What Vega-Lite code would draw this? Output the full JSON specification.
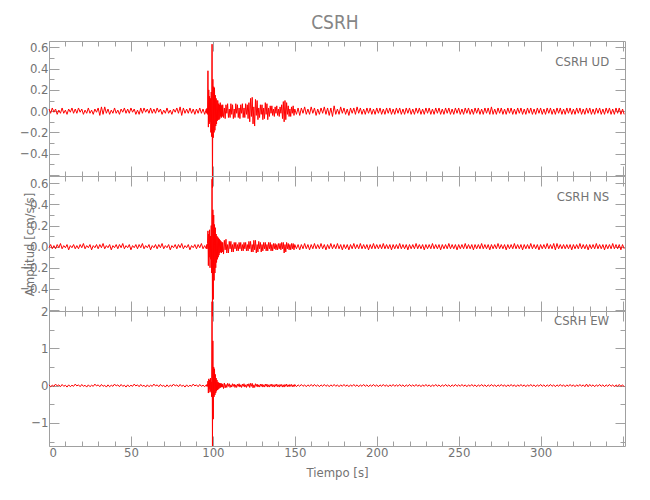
{
"$schema": "https://vega.github.io/schema/vega-lite/v6.json",
"padding": {"left": 19, "top": 13, "right": 5, "bottom": 5},
"title": {"text": "CSRH", "fontSize": 19, "font": "DejaVu Sans Condensed, Liberation Sans, sans-serif", "fontWeight": "normal", "color": "#858585", "offset": -7, "dx": 12, "baseline": "alphabetic", "anchor": "middle"},
"spacing": 0,
"bounds": "flush",
"config": {
  "view": {"stroke": null},
  "axis": {"domainColor": "#a0a0a0", "tickColor": "#a0a0a0", "labelColor": "#737373", "labelFont": "DejaVu Sans Condensed, Liberation Sans, sans-serif", "labelFontSize": 13, "titleFont": "DejaVu Sans Condensed, Liberation Sans, sans-serif", "titleFontSize": 13, "titleColor": "#737373", "titleFontWeight": "normal", "grid": false},
  "line": {"color": "#ff0000", "strokeWidth": 1}
},
"data": {"values": [
{"t":0,"u":0.02,"n":-0.01,"e":0.02},{"t":1,"u":-0.02,"n":0.02,"e":-0.03},{"t":2,"u":0.03,"n":-0.02,"e":0.01},{"t":3,"u":-0.01,"n":0.01,"e":-0.02},{"t":4,"u":0.02,"n":-0.02,"e":0.04},{"t":5,"u":-0.03,"n":0.02,"e":-0.01},{"t":6,"u":0.01,"n":-0.01,"e":0.02},{"t":7,"u":-0.02,"n":0.03,"e":-0.03},{"t":8,"u":0.03,"n":-0.02,"e":0.03},{"t":9,"u":-0.02,"n":0.01,"e":-0.02},
{"t":10,"u":0.01,"n":-0.01,"e":0.01},{"t":11,"u":-0.03,"n":0.02,"e":-0.04},{"t":12,"u":0.02,"n":-0.03,"e":0.02},{"t":13,"u":-0.01,"n":0.01,"e":-0.03},{"t":14,"u":0.03,"n":-0.01,"e":0.01},{"t":15,"u":-0.02,"n":0.02,"e":-0.02},{"t":16,"u":0.02,"n":-0.02,"e":0.04},{"t":17,"u":-0.02,"n":0.01,"e":-0.01},{"t":18,"u":0.03,"n":-0.02,"e":0.02},{"t":19,"u":-0.01,"n":0.02,"e":-0.03},
{"t":20,"u":0.02,"n":-0.01,"e":0.03},{"t":21,"u":-0.03,"n":0.03,"e":-0.02},{"t":22,"u":0.01,"n":-0.02,"e":0.01},{"t":23,"u":-0.02,"n":0.01,"e":-0.04},{"t":24,"u":0.03,"n":-0.01,"e":0.02},{"t":25,"u":-0.02,"n":0.02,"e":-0.03},{"t":26,"u":0.01,"n":-0.03,"e":0.01},{"t":27,"u":-0.03,"n":0.01,"e":-0.02},{"t":28,"u":0.02,"n":-0.01,"e":0.04},{"t":29,"u":-0.01,"n":0.02,"e":-0.01},
{"t":30,"u":0.03,"n":-0.02,"e":0.02},{"t":31,"u":-0.04,"n":0.02,"e":-0.03},{"t":32,"u":0.04,"n":-0.01,"e":0.03},{"t":33,"u":-0.03,"n":0.03,"e":-0.02},{"t":34,"u":0.04,"n":-0.02,"e":0.01},{"t":35,"u":-0.02,"n":0.01,"e":-0.04},{"t":36,"u":0.02,"n":-0.01,"e":0.02},{"t":37,"u":-0.03,"n":0.02,"e":-0.03},{"t":38,"u":0.01,"n":-0.03,"e":0.01},{"t":39,"u":-0.02,"n":0.01,"e":-0.02},
{"t":40,"u":0.03,"n":-0.01,"e":0.04},{"t":41,"u":-0.02,"n":0.02,"e":-0.01},{"t":42,"u":0.01,"n":-0.02,"e":0.02},{"t":43,"u":-0.03,"n":0.02,"e":-0.03},{"t":44,"u":0.02,"n":-0.01,"e":0.03},{"t":45,"u":-0.01,"n":0.03,"e":-0.02},{"t":46,"u":0.03,"n":-0.02,"e":0.01},{"t":47,"u":-0.02,"n":0.01,"e":-0.04},{"t":48,"u":0.02,"n":-0.01,"e":0.02},{"t":49,"u":-0.02,"n":0.02,"e":-0.03},
{"t":50,"u":0.03,"n":-0.03,"e":0.01},{"t":51,"u":-0.01,"n":0.01,"e":-0.02},{"t":52,"u":0.02,"n":-0.01,"e":0.04},{"t":53,"u":-0.03,"n":0.02,"e":-0.01},{"t":54,"u":0.01,"n":-0.02,"e":0.02},{"t":55,"u":-0.03,"n":0.02,"e":-0.03},{"t":56,"u":0.03,"n":-0.01,"e":0.03},{"t":57,"u":-0.02,"n":0.03,"e":-0.02},{"t":58,"u":0.03,"n":-0.02,"e":0.01},{"t":59,"u":-0.01,"n":0.01,"e":-0.04},
{"t":60,"u":0.02,"n":-0.01,"e":0.02},{"t":61,"u":-0.02,"n":0.02,"e":-0.03},{"t":62,"u":0.03,"n":-0.03,"e":0.01},{"t":63,"u":-0.02,"n":0.01,"e":-0.02},{"t":64,"u":0.02,"n":-0.01,"e":0.04},{"t":65,"u":-0.02,"n":0.02,"e":-0.01},{"t":66,"u":0.03,"n":-0.02,"e":0.02},{"t":67,"u":-0.01,"n":0.02,"e":-0.03},{"t":68,"u":0.02,"n":-0.01,"e":0.03},{"t":69,"u":-0.03,"n":0.03,"e":-0.02},
{"t":70,"u":0.01,"n":-0.02,"e":0.01},{"t":71,"u":-0.02,"n":0.01,"e":-0.04},{"t":72,"u":0.03,"n":-0.01,"e":0.02},{"t":73,"u":-0.02,"n":0.02,"e":-0.03},{"t":74,"u":0.01,"n":-0.03,"e":0.01},{"t":75,"u":-0.03,"n":0.01,"e":-0.02},{"t":76,"u":0.02,"n":-0.01,"e":0.04},{"t":77,"u":-0.01,"n":0.02,"e":-0.01},{"t":78,"u":0.03,"n":-0.02,"e":0.02},{"t":79,"u":-0.02,"n":0.02,"e":-0.03},
{"t":80,"u":0.04,"n":-0.01,"e":0.03},{"t":81,"u":-0.04,"n":0.03,"e":-0.02},{"t":82,"u":0.03,"n":-0.02,"e":0.01},{"t":83,"u":-0.02,"n":0.01,"e":-0.04},{"t":84,"u":0.02,"n":-0.01,"e":0.02},{"t":85,"u":-0.02,"n":0.02,"e":-0.03},{"t":86,"u":0.03,"n":-0.03,"e":0.01},{"t":87,"u":-0.02,"n":0.01,"e":-0.02},{"t":88,"u":0.02,"n":-0.01,"e":0.04},{"t":89,"u":-0.03,"n":0.02,"e":-0.01},
{"t":90,"u":0.02,"n":-0.02,"e":0.02},{"t":91,"u":-0.02,"n":0.02,"e":-0.03},{"t":92,"u":0.03,"n":-0.01,"e":0.03},{"t":93,"u":-0.02,"n":0.03,"e":-0.02},{"t":94,"u":0.02,"n":-0.02,"e":0.01},{"t":95,"u":-0.03,"n":0.01,"e":-0.03},{"t":96,"u":0.02,"n":-0.02,"e":0.02},
{"t":96.25,"u":-0.02,"n":0.02,"e":-0.02},{"t":96.5,"u":0.03,"n":-0.02,"e":0.03},{"t":96.75,"u":-0.03,"n":0.03,"e":-0.02},{"t":97,"u":0.38,"n":0.15,"e":0.12},{"t":97.25,"u":-0.15,"n":-0.18,"e":-0.2},{"t":97.5,"u":0.2,"n":0.12,"e":0.18},{"t":97.75,"u":-0.12,"n":-0.1,"e":-0.1},{"t":98,"u":0.14,"n":0.16,"e":0.15},{"t":98.25,"u":-0.1,"n":-0.2,"e":-0.18},{"t":98.5,"u":0.12,"n":0.1,"e":0.2},
{"t":98.75,"u":-0.2,"n":-0.12,"e":-0.15},{"t":99,"u":0.18,"n":0.2,"e":0.1},{"t":99.25,"u":-0.24,"n":-0.25,"e":-0.3},{"t":99.5,"u":0.63,"n":0.64,"e":2.25},{"t":99.75,"u":-0.72,"n":-0.66,"e":-1.62},{"t":100,"u":0.3,"n":0.35,"e":1.2},{"t":100.25,"u":-0.25,"n":-0.5,"e":-0.9},{"t":100.5,"u":0.23,"n":0.3,"e":0.5},{"t":100.75,"u":-0.2,"n":-0.32,"e":-0.3},{"t":101,"u":0.22,"n":0.21,"e":0.45},
{"t":101.25,"u":-0.18,"n":-0.25,"e":-0.25},{"t":101.5,"u":0.15,"n":0.18,"e":0.3},{"t":101.75,"u":-0.14,"n":-0.2,"e":-0.2},{"t":102,"u":0.12,"n":0.12,"e":0.2},{"t":102.25,"u":-0.12,"n":-0.15,"e":-0.15},{"t":102.5,"u":0.1,"n":0.1,"e":0.15},{"t":102.75,"u":-0.09,"n":-0.12,"e":-0.12},{"t":103,"u":0.1,"n":0.09,"e":0.1},{"t":103.25,"u":-0.08,"n":-0.1,"e":-0.1},{"t":103.5,"u":0.07,"n":0.08,"e":0.08},
{"t":103.75,"u":-0.08,"n":-0.08,"e":-0.08},{"t":104,"u":0.06,"n":0.07,"e":0.07},{"t":104.25,"u":-0.07,"n":-0.06,"e":-0.06},{"t":104.5,"u":0.08,"n":0.06,"e":0.06},{"t":104.75,"u":-0.05,"n":-0.05,"e":-0.05},{"t":105,"u":0.06,"n":0.05,"e":0.06},{"t":105.25,"u":-0.06,"n":-0.06,"e":-0.04},{"t":105.5,"u":0.05,"n":0.04,"e":0.05},{"t":105.75,"u":-0.05,"n":-0.05,"e":-0.04},{"t":106,"u":0.06,"n":0.04,"e":0.04},
{"t":106.5,"u":-0.06,"n":-0.07,"e":-0.08},{"t":107,"u":0.03,"n":0.06,"e":0.07},{"t":107.5,"u":-0.07,"n":-0.03,"e":-0.06},{"t":108,"u":0.06,"n":0.07,"e":0.03},{"t":108.5,"u":-0.02,"n":-0.06,"e":-0.05},{"t":109,"u":0.07,"n":0.02,"e":0.06},{"t":109.5,"u":-0.06,"n":-0.06,"e":-0.02},{"t":110,"u":0.02,"n":0.05,"e":0.05},{"t":110.5,"u":-0.06,"n":-0.02,"e":-0.05},{"t":111,"u":0.07,"n":0.05,"e":0.02},
{"t":111.5,"u":-0.03,"n":-0.05,"e":-0.04},{"t":112,"u":0.06,"n":0.02,"e":0.05},{"t":112.5,"u":-0.07,"n":-0.05,"e":-0.02},{"t":113,"u":0.02,"n":0.04,"e":0.04},{"t":113.5,"u":-0.06,"n":-0.02,"e":-0.05},{"t":114,"u":0.07,"n":0.04,"e":0.02},{"t":114.5,"u":-0.02,"n":-0.04,"e":-0.05},{"t":115,"u":0.06,"n":0.02,"e":0.04},{"t":115.5,"u":-0.06,"n":-0.04,"e":-0.02},{"t":116,"u":0.03,"n":0.04,"e":0.05},
{"t":116.5,"u":-0.07,"n":-0.02,"e":-0.04},{"t":117,"u":0.06,"n":0.04,"e":0.02},{"t":117.5,"u":-0.02,"n":-0.04,"e":-0.05},{"t":118,"u":0.07,"n":0.02,"e":0.04},{"t":118.5,"u":-0.06,"n":-0.04,"e":-0.02},{"t":119,"u":0.03,"n":0.04,"e":0.05},{"t":119.5,"u":-0.06,"n":-0.02,"e":-0.04},{"t":120,"u":0.07,"n":0.04,"e":0.02},{"t":120.5,"u":-0.03,"n":-0.04,"e":-0.05},{"t":121,"u":0.06,"n":0.02,"e":0.04},
{"t":121.5,"u":-0.07,"n":-0.04,"e":-0.02},{"t":122,"u":0.08,"n":0.05,"e":0.05},{"t":122.5,"u":-0.1,"n":-0.02,"e":-0.05},{"t":123,"u":0.12,"n":0.05,"e":0.06},{"t":123.5,"u":-0.05,"n":-0.05,"e":-0.02},{"t":124,"u":0.13,"n":0.02,"e":0.06},{"t":124.5,"u":-0.12,"n":-0.05,"e":-0.06},{"t":125,"u":0.04,"n":0.06,"e":0.02},{"t":125.5,"u":-0.14,"n":-0.03,"e":-0.05},{"t":126,"u":0.11,"n":0.06,"e":0.05},
{"t":126.5,"u":-0.04,"n":-0.06,"e":-0.02},{"t":127,"u":0.1,"n":0.02,"e":0.04},{"t":127.5,"u":-0.08,"n":-0.05,"e":-0.04},{"t":128,"u":0.03,"n":0.05,"e":0.02},{"t":128.5,"u":-0.06,"n":-0.02,"e":-0.04},{"t":129,"u":0.06,"n":0.04,"e":0.04},{"t":129.5,"u":-0.03,"n":-0.05,"e":-0.02},{"t":130,"u":0.06,"n":0.02,"e":0.04},{"t":130.5,"u":-0.08,"n":-0.04,"e":-0.04},{"t":131,"u":0.03,"n":0.04,"e":0.02},
{"t":131.5,"u":-0.07,"n":-0.02,"e":-0.04},{"t":132,"u":0.08,"n":0.04,"e":0.04},{"t":132.5,"u":-0.03,"n":-0.04,"e":-0.02},{"t":133,"u":0.07,"n":0.02,"e":0.04},{"t":133.5,"u":-0.08,"n":-0.04,"e":-0.04},{"t":134,"u":0.03,"n":0.04,"e":0.02},{"t":134.5,"u":-0.05,"n":-0.02,"e":-0.04},{"t":135,"u":0.05,"n":0.04,"e":0.03},{"t":135.5,"u":-0.02,"n":-0.04,"e":-0.02},{"t":136,"u":0.05,"n":0.02,"e":0.04},
{"t":136.5,"u":-0.04,"n":-0.04,"e":-0.03},{"t":137,"u":0.02,"n":0.03,"e":0.02},{"t":137.5,"u":-0.05,"n":-0.02,"e":-0.04},{"t":138,"u":0.04,"n":0.03,"e":0.03},{"t":138.5,"u":-0.02,"n":-0.03,"e":-0.02},{"t":139,"u":0.05,"n":0.02,"e":0.04},{"t":139.5,"u":-0.04,"n":-0.03,"e":-0.03},{"t":140,"u":0.02,"n":0.03,"e":0.02},{"t":140.5,"u":-0.05,"n":-0.02,"e":-0.04},{"t":141,"u":0.04,"n":0.03,"e":0.03},
{"t":141.5,"u":-0.02,"n":-0.03,"e":-0.02},{"t":142,"u":0.06,"n":0.04,"e":0.03},{"t":142.5,"u":-0.07,"n":-0.02,"e":-0.04},{"t":143,"u":0.09,"n":0.04,"e":0.02},{"t":143.5,"u":-0.1,"n":-0.06,"e":-0.04},{"t":144,"u":0.1,"n":0.02,"e":0.03},{"t":144.5,"u":-0.08,"n":-0.05,"e":-0.02},{"t":145,"u":0.08,"n":0.04,"e":0.04},{"t":145.5,"u":-0.03,"n":-0.02,"e":-0.03},{"t":146,"u":0.05,"n":0.03,"e":0.02},
{"t":146.5,"u":-0.05,"n":-0.03,"e":-0.03},{"t":147,"u":0.02,"n":0.02,"e":0.03},{"t":147.5,"u":-0.05,"n":-0.03,"e":-0.02},{"t":148,"u":0.04,"n":0.03,"e":0.03},{"t":148.5,"u":-0.02,"n":-0.02,"e":-0.03},{"t":149,"u":0.05,"n":0.03,"e":0.02},{"t":149.5,"u":-0.04,"n":-0.03,"e":-0.03},{"t":150,"u":0.02,"n":0.02,"e":0.03},
{"t":151,"u":-0.03,"n":-0.02,"e":-0.03},{"t":152,"u":0.03,"n":0.02,"e":0.02},{"t":153,"u":-0.04,"n":-0.03,"e":-0.02},{"t":154,"u":0.03,"n":0.02,"e":0.03},{"t":155,"u":-0.02,"n":-0.02,"e":-0.02},{"t":156,"u":0.04,"n":0.03,"e":0.02},{"t":157,"u":-0.03,"n":-0.02,"e":-0.03},{"t":158,"u":0.02,"n":0.02,"e":0.02},{"t":159,"u":-0.03,"n":-0.03,"e":-0.02},{"t":160,"u":0.04,"n":0.02,"e":0.03},
{"t":161,"u":-0.02,"n":-0.02,"e":-0.02},{"t":162,"u":0.03,"n":0.03,"e":0.03},{"t":163,"u":-0.04,"n":-0.02,"e":-0.02},{"t":164,"u":0.02,"n":0.02,"e":0.02},{"t":165,"u":-0.03,"n":-0.02,"e":-0.03},{"t":166,"u":0.03,"n":0.03,"e":0.02},{"t":167,"u":-0.02,"n":-0.02,"e":-0.02},{"t":168,"u":0.04,"n":0.02,"e":0.03},{"t":169,"u":-0.03,"n":-0.03,"e":-0.02},{"t":170,"u":0.03,"n":0.02,"e":0.02},
{"t":171,"u":-0.04,"n":-0.02,"e":-0.03},{"t":172,"u":0.03,"n":0.03,"e":0.02},{"t":173,"u":-0.05,"n":-0.02,"e":-0.02},{"t":174,"u":0.05,"n":0.02,"e":0.03},{"t":175,"u":-0.03,"n":-0.02,"e":-0.02},{"t":176,"u":0.02,"n":0.03,"e":0.02},{"t":177,"u":-0.03,"n":-0.02,"e":-0.03},{"t":178,"u":0.04,"n":0.02,"e":0.02},{"t":179,"u":-0.02,"n":-0.03,"e":-0.02},{"t":180,"u":0.03,"n":0.02,"e":0.03},
{"t":181,"u":-0.03,"n":-0.02,"e":-0.02},{"t":182,"u":0.02,"n":0.02,"e":0.02},{"t":183,"u":-0.04,"n":-0.03,"e":-0.03},{"t":184,"u":0.03,"n":0.02,"e":0.02},{"t":185,"u":-0.02,"n":-0.02,"e":-0.02},{"t":186,"u":0.03,"n":0.03,"e":0.03},{"t":187,"u":-0.03,"n":-0.02,"e":-0.02},{"t":188,"u":0.04,"n":0.02,"e":0.02},{"t":189,"u":-0.02,"n":-0.02,"e":-0.03},{"t":190,"u":0.03,"n":0.03,"e":0.02},
{"t":191,"u":-0.03,"n":-0.02,"e":-0.02},{"t":192,"u":0.02,"n":0.02,"e":0.03},{"t":193,"u":-0.03,"n":-0.02,"e":-0.02},{"t":194,"u":0.03,"n":0.02,"e":0.02},{"t":195,"u":-0.02,"n":-0.03,"e":-0.03},{"t":196,"u":0.03,"n":0.02,"e":0.02},{"t":197,"u":-0.03,"n":-0.02,"e":-0.02},{"t":198,"u":0.02,"n":0.03,"e":0.03},{"t":199,"u":-0.03,"n":-0.02,"e":-0.02},{"t":200,"u":0.03,"n":0.02,"e":0.02},
{"t":201,"u":-0.02,"n":-0.02,"e":-0.03},{"t":202,"u":0.03,"n":0.02,"e":0.02},{"t":203,"u":-0.03,"n":-0.02,"e":-0.02},{"t":204,"u":0.02,"n":0.03,"e":0.03},{"t":205,"u":-0.03,"n":-0.02,"e":-0.02},{"t":206,"u":0.03,"n":0.02,"e":0.02},{"t":207,"u":-0.02,"n":-0.02,"e":-0.03},{"t":208,"u":0.03,"n":0.02,"e":0.02},{"t":209,"u":-0.03,"n":-0.03,"e":-0.02},{"t":210,"u":0.02,"n":0.02,"e":0.03},
{"t":211,"u":-0.03,"n":-0.02,"e":-0.02},{"t":212,"u":0.03,"n":0.02,"e":0.02},{"t":213,"u":-0.02,"n":-0.02,"e":-0.02},{"t":214,"u":0.03,"n":0.03,"e":0.03},{"t":215,"u":-0.03,"n":-0.02,"e":-0.02},{"t":216,"u":0.02,"n":0.02,"e":0.02},{"t":217,"u":-0.03,"n":-0.02,"e":-0.03},{"t":218,"u":0.03,"n":0.02,"e":0.02},{"t":219,"u":-0.02,"n":-0.03,"e":-0.02},{"t":220,"u":0.03,"n":0.02,"e":0.03},
{"t":221,"u":-0.03,"n":-0.02,"e":-0.02},{"t":222,"u":0.02,"n":0.02,"e":0.02},{"t":223,"u":-0.03,"n":-0.02,"e":-0.02},{"t":224,"u":0.03,"n":0.03,"e":0.03},{"t":225,"u":-0.02,"n":-0.02,"e":-0.02},{"t":226,"u":0.03,"n":0.02,"e":0.02},{"t":227,"u":-0.03,"n":-0.02,"e":-0.03},{"t":228,"u":0.02,"n":0.02,"e":0.02},{"t":229,"u":-0.03,"n":-0.03,"e":-0.02},{"t":230,"u":0.03,"n":0.02,"e":0.03},
{"t":231,"u":-0.02,"n":-0.02,"e":-0.02},{"t":232,"u":0.03,"n":0.02,"e":0.02},{"t":233,"u":-0.03,"n":-0.02,"e":-0.03},{"t":234,"u":0.02,"n":0.03,"e":0.02},{"t":235,"u":-0.03,"n":-0.02,"e":-0.02},{"t":236,"u":0.03,"n":0.02,"e":0.03},{"t":237,"u":-0.02,"n":-0.02,"e":-0.02},{"t":238,"u":0.03,"n":0.02,"e":0.02},{"t":239,"u":-0.03,"n":-0.03,"e":-0.03},{"t":240,"u":0.02,"n":0.02,"e":0.02},
{"t":241,"u":-0.03,"n":-0.02,"e":-0.02},{"t":242,"u":0.03,"n":0.02,"e":0.03},{"t":243,"u":-0.02,"n":-0.02,"e":-0.02},{"t":244,"u":0.03,"n":0.03,"e":0.02},{"t":245,"u":-0.03,"n":-0.02,"e":-0.03},{"t":246,"u":0.02,"n":0.02,"e":0.02},{"t":247,"u":-0.03,"n":-0.02,"e":-0.02},{"t":248,"u":0.03,"n":0.02,"e":0.03},{"t":249,"u":-0.02,"n":-0.03,"e":-0.02},{"t":250,"u":0.03,"n":0.02,"e":0.02},
{"t":251,"u":-0.03,"n":-0.02,"e":-0.02},{"t":252,"u":0.02,"n":0.02,"e":0.03},{"t":253,"u":-0.03,"n":-0.02,"e":-0.02},{"t":254,"u":0.03,"n":0.03,"e":0.02},{"t":255,"u":-0.02,"n":-0.02,"e":-0.03},{"t":256,"u":0.03,"n":0.02,"e":0.02},{"t":257,"u":-0.03,"n":-0.02,"e":-0.02},{"t":258,"u":0.02,"n":0.02,"e":0.03},{"t":259,"u":-0.03,"n":-0.03,"e":-0.02},{"t":260,"u":0.03,"n":0.02,"e":0.02},
{"t":261,"u":-0.02,"n":-0.02,"e":-0.03},{"t":262,"u":0.03,"n":0.02,"e":0.02},{"t":263,"u":-0.03,"n":-0.02,"e":-0.02},{"t":264,"u":0.02,"n":0.03,"e":0.03},{"t":265,"u":-0.03,"n":-0.02,"e":-0.02},{"t":266,"u":0.03,"n":0.02,"e":0.02},{"t":267,"u":-0.02,"n":-0.02,"e":-0.03},{"t":268,"u":0.03,"n":0.02,"e":0.02},{"t":269,"u":-0.03,"n":-0.03,"e":-0.02},{"t":270,"u":0.04,"n":0.02,"e":0.03},
{"t":271,"u":-0.03,"n":-0.02,"e":-0.02},{"t":272,"u":0.02,"n":0.02,"e":0.02},{"t":273,"u":-0.03,"n":-0.02,"e":-0.03},{"t":274,"u":0.03,"n":0.03,"e":0.02},{"t":275,"u":-0.02,"n":-0.02,"e":-0.02},{"t":276,"u":0.03,"n":0.02,"e":0.03},{"t":277,"u":-0.03,"n":-0.02,"e":-0.02},{"t":278,"u":0.02,"n":0.02,"e":0.02},{"t":279,"u":-0.03,"n":-0.03,"e":-0.03},{"t":280,"u":0.03,"n":0.02,"e":0.02},
{"t":281,"u":-0.02,"n":-0.02,"e":-0.02},{"t":282,"u":0.03,"n":0.02,"e":0.03},{"t":283,"u":-0.03,"n":-0.02,"e":-0.02},{"t":284,"u":0.02,"n":0.03,"e":0.02},{"t":285,"u":-0.03,"n":-0.02,"e":-0.03},{"t":286,"u":0.03,"n":0.02,"e":0.02},{"t":287,"u":-0.02,"n":-0.02,"e":-0.02},{"t":288,"u":0.03,"n":0.02,"e":0.03},{"t":289,"u":-0.03,"n":-0.03,"e":-0.02},{"t":290,"u":0.02,"n":0.02,"e":0.02},
{"t":291,"u":-0.03,"n":-0.02,"e":-0.03},{"t":292,"u":0.03,"n":0.02,"e":0.02},{"t":293,"u":-0.02,"n":-0.02,"e":-0.02},{"t":294,"u":0.03,"n":0.03,"e":0.03},{"t":295,"u":-0.03,"n":-0.02,"e":-0.02},{"t":296,"u":0.02,"n":0.02,"e":0.02},{"t":297,"u":-0.03,"n":-0.02,"e":-0.03},{"t":298,"u":0.03,"n":0.02,"e":0.02},{"t":299,"u":-0.02,"n":-0.03,"e":-0.02},{"t":300,"u":0.03,"n":0.02,"e":0.03},
{"t":301,"u":-0.03,"n":-0.02,"e":-0.02},{"t":302,"u":0.02,"n":0.02,"e":0.02},{"t":303,"u":-0.03,"n":-0.02,"e":-0.03},{"t":304,"u":0.03,"n":0.03,"e":0.02},{"t":305,"u":-0.02,"n":-0.02,"e":-0.02},{"t":306,"u":0.03,"n":0.02,"e":0.03},{"t":307,"u":-0.03,"n":-0.02,"e":-0.02},{"t":308,"u":0.02,"n":0.03,"e":0.02},{"t":309,"u":-0.03,"n":-0.03,"e":-0.03},{"t":310,"u":0.03,"n":0.03,"e":0.02},
{"t":311,"u":-0.02,"n":-0.02,"e":-0.02},{"t":312,"u":0.03,"n":0.02,"e":0.03},{"t":313,"u":-0.03,"n":-0.02,"e":-0.02},{"t":314,"u":0.02,"n":0.02,"e":0.02},{"t":315,"u":-0.03,"n":-0.02,"e":-0.03},{"t":316,"u":0.03,"n":0.02,"e":0.02},{"t":317,"u":-0.02,"n":-0.02,"e":-0.02},{"t":318,"u":0.03,"n":0.02,"e":0.03},{"t":319,"u":-0.03,"n":-0.03,"e":-0.02},{"t":320,"u":0.02,"n":0.02,"e":0.02},
{"t":321,"u":-0.03,"n":-0.02,"e":-0.03},{"t":322,"u":0.03,"n":0.02,"e":0.02},{"t":323,"u":-0.02,"n":-0.02,"e":-0.02},{"t":324,"u":0.03,"n":0.03,"e":0.03},{"t":325,"u":-0.03,"n":-0.02,"e":-0.02},{"t":326,"u":0.02,"n":0.02,"e":0.02},{"t":327,"u":-0.03,"n":-0.02,"e":-0.03},{"t":328,"u":0.03,"n":0.02,"e":0.04},{"t":329,"u":-0.02,"n":-0.03,"e":-0.03},{"t":330,"u":0.03,"n":0.02,"e":0.03},
{"t":331,"u":-0.03,"n":-0.02,"e":-0.02},{"t":332,"u":0.02,"n":0.02,"e":0.02},{"t":333,"u":-0.03,"n":-0.02,"e":-0.03},{"t":334,"u":0.03,"n":0.03,"e":0.02},{"t":335,"u":-0.02,"n":-0.02,"e":-0.02},{"t":336,"u":0.03,"n":0.02,"e":0.03},{"t":337,"u":-0.03,"n":-0.02,"e":-0.02},{"t":338,"u":0.02,"n":0.02,"e":0.02},{"t":339,"u":-0.03,"n":-0.03,"e":-0.03},{"t":340,"u":0.03,"n":0.02,"e":0.02},
{"t":341,"u":-0.02,"n":-0.02,"e":-0.02},{"t":342,"u":0.03,"n":0.02,"e":0.03},{"t":343,"u":-0.03,"n":-0.02,"e":-0.02},{"t":344,"u":0.02,"n":0.03,"e":0.02},{"t":345,"u":-0.03,"n":-0.02,"e":-0.03},{"t":346,"u":0.03,"n":0.02,"e":0.02},{"t":347,"u":-0.02,"n":-0.02,"e":-0.02},{"t":348,"u":0.03,"n":0.02,"e":0.03},{"t":349,"u":-0.03,"n":-0.03,"e":-0.02},{"t":350,"u":0.02,"n":0.02,"e":0.02},
{"t":351,"u":-0.03,"n":-0.02,"e":-0.03}
]},
"vconcat": [
{
 "width": 576, "height": 135,
 "title": {"text": "CSRH   UD", "anchor": "end", "orient": "top", "offset": -38, "dx": -17, "baseline": "alphabetic", "fontSize": 13, "fontWeight": "normal", "color": "#737373", "font": "DejaVu Sans Condensed, Liberation Sans, sans-serif"},
 "layer": [
  {"mark": {"type": "line", "clip": false},
   "encoding": {
    "x": {"field": "t", "type": "quantitative", "scale": {"domain": [0, 351.5], "nice": false, "zero": false},
          "axis": {"orient": "bottom", "values": [0,10,20,30,40,50,60,70,80,90,100,110,120,130,140,150,160,170,180,190,200,210,220,230,240,250,260,270,280,290,300,310,320,330,340,350], "labels": false, "title": null, "tickSize": {"condition": {"test": "datum.value % 50 == 0", "value": -10}, "value": -5}}},
    "y": {"field": "u", "type": "quantitative", "scale": {"domain": [-0.61, 0.66], "nice": false, "zero": false},
          "axis": {"orient": "left", "values": [-0.6,-0.5,-0.4,-0.3,-0.2,-0.1,0,0.1,0.2,0.3,0.4,0.5,0.6], "title": null, "labelPadding": 11, "labelExpr": "abs(round(datum.value*10)) % 2 == 0 && datum.value > -0.55 ? format(datum.value, '.1f') : ''", "tickSize": {"condition": {"test": "abs(round(datum.value*10)) % 2 == 0", "value": -10}, "value": -5}}}
   }},
  {"mark": {"type": "line", "opacity": 0},
   "encoding": {
    "x": {"field": "t", "type": "quantitative", "scale": {"domain": [0, 351.5], "nice": false, "zero": false},
          "axis": {"orient": "top", "values": [0,10,20,30,40,50,60,70,80,90,100,110,120,130,140,150,160,170,180,190,200,210,220,230,240,250,260,270,280,290,300,310,320,330,340,350], "labels": false, "title": null, "tickSize": {"condition": {"test": "datum.value % 50 == 0", "value": -10}, "value": -5}}},
    "y": {"field": "u", "type": "quantitative", "scale": {"domain": [-0.61, 0.66], "nice": false, "zero": false},
          "axis": {"orient": "right", "values": [-0.6,-0.5,-0.4,-0.3,-0.2,-0.1,0,0.1,0.2,0.3,0.4,0.5,0.6], "labels": false, "title": null, "tickSize": {"condition": {"test": "abs(round(datum.value*10)) % 2 == 0", "value": -10}, "value": -5}}}
   }}
 ],
 "resolve": {"axis": {"x": "independent", "y": "independent"}}
},
{
 "width": 576, "height": 135,
 "title": {"text": "CSRH   NS", "anchor": "end", "orient": "top", "offset": -38, "dx": -17, "baseline": "alphabetic", "fontSize": 13, "fontWeight": "normal", "color": "#737373", "font": "DejaVu Sans Condensed, Liberation Sans, sans-serif"},
 "layer": [
  {"mark": {"type": "line", "clip": false},
   "encoding": {
    "x": {"field": "t", "type": "quantitative", "scale": {"domain": [0, 351.5], "nice": false, "zero": false},
          "axis": {"orient": "bottom", "values": [0,10,20,30,40,50,60,70,80,90,100,110,120,130,140,150,160,170,180,190,200,210,220,230,240,250,260,270,280,290,300,310,320,330,340,350], "labels": false, "title": null, "tickSize": {"condition": {"test": "datum.value % 50 == 0", "value": -10}, "value": -5}}},
    "y": {"field": "n", "type": "quantitative", "scale": {"domain": [-0.61, 0.67], "nice": false, "zero": false},
          "axis": {"orient": "left", "values": [-0.6,-0.5,-0.4,-0.3,-0.2,-0.1,0,0.1,0.2,0.3,0.4,0.5,0.6], "title": "Amplitud [cm/s/s]", "titleX": -13, "titleY": 68, "labelPadding": 11, "labelExpr": "abs(round(datum.value*10)) % 2 == 0 && datum.value > -0.55 ? format(datum.value, '.1f') : ''", "tickSize": {"condition": {"test": "abs(round(datum.value*10)) % 2 == 0", "value": -10}, "value": -5}}}
   }},
  {"mark": {"type": "line", "opacity": 0},
   "encoding": {
    "x": {"field": "t", "type": "quantitative", "scale": {"domain": [0, 351.5], "nice": false, "zero": false},
          "axis": {"orient": "top", "values": [0,10,20,30,40,50,60,70,80,90,100,110,120,130,140,150,160,170,180,190,200,210,220,230,240,250,260,270,280,290,300,310,320,330,340,350], "labels": false, "title": null, "tickSize": {"condition": {"test": "datum.value % 50 == 0", "value": -10}, "value": -5}}},
    "y": {"field": "n", "type": "quantitative", "scale": {"domain": [-0.61, 0.67], "nice": false, "zero": false},
          "axis": {"orient": "right", "values": [-0.6,-0.5,-0.4,-0.3,-0.2,-0.1,0,0.1,0.2,0.3,0.4,0.5,0.6], "labels": false, "title": null, "tickSize": {"condition": {"test": "abs(round(datum.value*10)) % 2 == 0", "value": -10}, "value": -5}}}
   }}
 ],
 "resolve": {"axis": {"x": "independent", "y": "independent"}}
},
{
 "width": 576, "height": 135,
 "title": {"text": "CSRH   EW", "anchor": "end", "orient": "top", "offset": -38, "dx": -17, "baseline": "alphabetic", "fontSize": 13, "fontWeight": "normal", "color": "#737373", "font": "DejaVu Sans Condensed, Liberation Sans, sans-serif"},
 "layer": [
  {"mark": {"type": "line", "clip": false},
   "encoding": {
    "x": {"field": "t", "type": "quantitative", "scale": {"domain": [0, 351.5], "nice": false, "zero": false},
          "axis": {"orient": "bottom", "values": [0,10,20,30,40,50,60,70,80,90,100,110,120,130,140,150,160,170,180,190,200,210,220,230,240,250,260,270,280,290,300,310,320,330,340,350], "labelPadding": 10, "labelExpr": "datum.value % 50 == 0 && datum.value <= 300 ? '' + datum.value : ''", "title": "Tiempo [s]", "titleY": 20, "tickSize": {"condition": {"test": "datum.value % 50 == 0", "value": -10}, "value": -5}}},
    "y": {"field": "e", "type": "quantitative", "scale": {"domain": [-1.62, 2.0], "nice": false, "zero": false},
          "axis": {"orient": "left", "values": [-1.5,-1,-0.5,0,0.5,1,1.5,2], "title": null, "labelPadding": 11, "labelExpr": "datum.value % 1 == 0 ? format(datum.value, 'd') : ''", "tickSize": {"condition": {"test": "datum.value % 1 == 0", "value": -10}, "value": -5}}}
   }},
  {"mark": {"type": "line", "opacity": 0},
   "encoding": {
    "x": {"field": "t", "type": "quantitative", "scale": {"domain": [0, 351.5], "nice": false, "zero": false},
          "axis": {"orient": "top", "values": [0,10,20,30,40,50,60,70,80,90,100,110,120,130,140,150,160,170,180,190,200,210,220,230,240,250,260,270,280,290,300,310,320,330,340,350], "labels": false, "title": null, "tickSize": {"condition": {"test": "datum.value % 50 == 0", "value": -10}, "value": -5}}},
    "y": {"field": "e", "type": "quantitative", "scale": {"domain": [-1.62, 2.0], "nice": false, "zero": false},
          "axis": {"orient": "right", "values": [-1.5,-1,-0.5,0,0.5,1,1.5,2], "labels": false, "title": null, "tickSize": {"condition": {"test": "datum.value % 1 == 0", "value": -10}, "value": -5}}}
   }}
 ],
 "resolve": {"axis": {"x": "independent", "y": "independent"}}
}
]
}
